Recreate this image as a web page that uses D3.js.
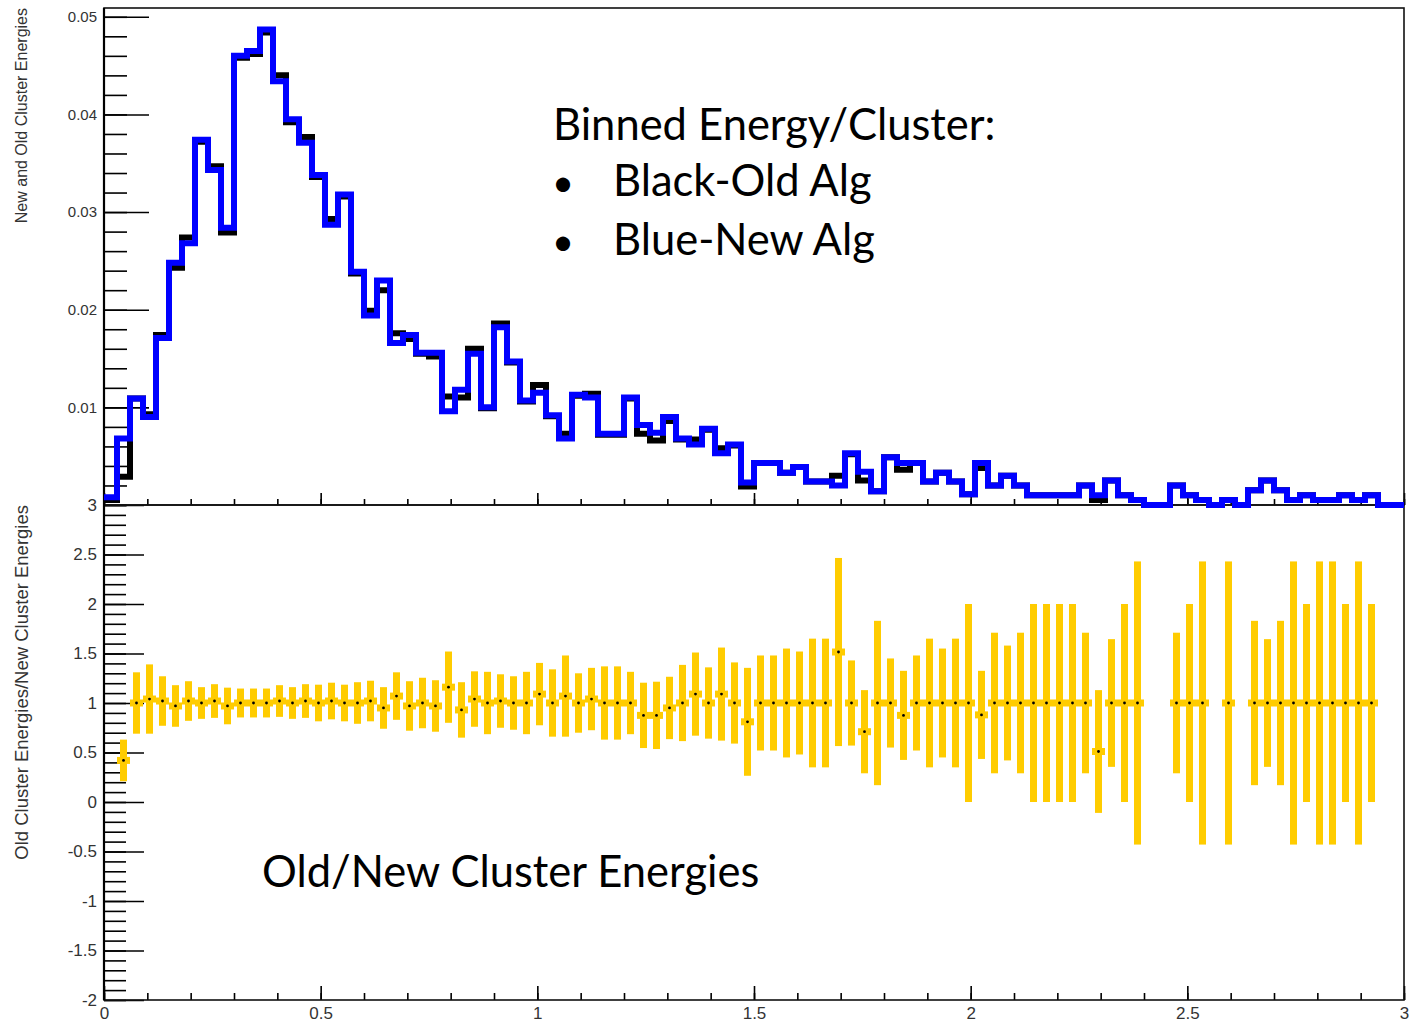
<!DOCTYPE html>
<html>
<head>
<meta charset="utf-8">
<script src="https://cdn.jsdelivr.net/npm/d3@7"></script>
<style>
  body { margin: 0; background: #fff; }
  svg { display: block; }
</style>
</head>
<body>
<svg id="chart" width="1411" height="1023"></svg>
<script>
// ---- binning: 100 bins of 0.03 between 0 and 3 ----
const xRange = [0, 3];
const nBins = 100;

// Normalised energy per cluster, old algorithm (black)
const oldAlg = [
  0.0005, 0.0029, 0.0109, 0.0093, 0.0174, 0.0243, 0.0274, 0.0372, 0.0347, 0.0279,
  0.0458, 0.0462, 0.0484, 0.0440, 0.0392, 0.0377, 0.0336, 0.0293, 0.0316, 0.0237,
  0.0199, 0.0220, 0.0176, 0.0170, 0.0155, 0.0152, 0.0111, 0.0110, 0.0160, 0.0099,
  0.0186, 0.0146, 0.0106, 0.0123, 0.0091, 0.0073, 0.0112, 0.0114, 0.0072, 0.0072,
  0.0109, 0.0073, 0.0066, 0.0086, 0.0067, 0.0067, 0.0077, 0.0058, 0.0061, 0.0019,
  0.0043, 0.0043, 0.0033, 0.0039, 0.0024, 0.0024, 0.0030, 0.0052, 0.0025, 0.0014,
  0.0049, 0.0036, 0.0043, 0.0024, 0.0033, 0.0024, 0.0011, 0.0038, 0.0020, 0.0030,
  0.0020, 0.0010, 0.0010, 0.0010, 0.0010, 0.0020, 0.0005, 0.0025, 0.0010, 0.0005,
  0.0000, 0.0000, 0.0020, 0.0010, 0.0005, 0.0000, 0.0005, 0.0000, 0.0015, 0.0025,
  0.0015, 0.0005, 0.0010, 0.0005, 0.0005, 0.0010, 0.0005, 0.0010, 0.0000, 0.0000
];

// Normalised energy per cluster, new algorithm (blue)
const newAlg = [
  0.0008, 0.0068, 0.0109, 0.0090, 0.0171, 0.0248, 0.0268, 0.0374, 0.0343, 0.0284,
  0.0460, 0.0465, 0.0487, 0.0434, 0.0395, 0.0371, 0.0338, 0.0287, 0.0318, 0.0239,
  0.0194, 0.0230, 0.0166, 0.0174, 0.0156, 0.0156, 0.0096, 0.0118, 0.0155, 0.0100,
  0.0182, 0.0147, 0.0107, 0.0115, 0.0092, 0.0068, 0.0113, 0.0110, 0.0073, 0.0073,
  0.0110, 0.0082, 0.0074, 0.0090, 0.0068, 0.0062, 0.0078, 0.0053, 0.0062, 0.0023,
  0.0043, 0.0043, 0.0033, 0.0039, 0.0024, 0.0024, 0.0020, 0.0053, 0.0034, 0.0014,
  0.0049, 0.0043, 0.0043, 0.0024, 0.0033, 0.0024, 0.0011, 0.0043, 0.0020, 0.0030,
  0.0020, 0.0010, 0.0010, 0.0010, 0.0010, 0.0020, 0.0010, 0.0025, 0.0010, 0.0005,
  0.0000, 0.0000, 0.0020, 0.0010, 0.0005, 0.0000, 0.0005, 0.0000, 0.0015, 0.0025,
  0.0015, 0.0005, 0.0010, 0.0005, 0.0005, 0.0010, 0.0005, 0.0010, 0.0000, 0.0000
];

// Old/New ratio per bin (null where a bin is empty) and its error
const ratio = [
  null, 0.42, 1.00, 1.04, 1.02, 0.97, 1.02, 1.00, 1.02, 0.97,
  1.00, 1.00, 1.00, 1.02, 1.00, 1.02, 1.00, 1.02, 1.00, 1.00,
  1.02, 0.95, 1.07, 0.97, 1.00, 0.97, 1.16, 0.93, 1.04, 1.00,
  1.02, 1.00, 1.00, 1.09, 1.00, 1.07, 1.00, 1.04, 1.00, 1.00,
  1.00, 0.875, 0.875, 0.95, 1.00, 1.09, 1.00, 1.09, 1.00, 0.81,
  1.00, 1.00, 1.00, 1.00, 1.00, 1.00, 1.515, 1.00, 0.71, 1.00,
  1.00, 0.875, 1.00, 1.00, 1.00, 1.00, 1.00, 0.88, 1.00, 1.00,
  1.00, 1.00, 1.00, 1.00, 1.00, 1.00, 0.51, 1.00, 1.00, 1.00,
  null, null, 1.00, 1.00, 1.00, null, 1.00, null, 1.00, 1.00,
  1.00, 1.00, 1.00, 1.00, 1.00, 1.00, 1.00, 1.00, null, null
];
const ratioErr = [
  0, 0.21, 0.31, 0.35, 0.25, 0.21, 0.20, 0.16, 0.17, 0.185,
  0.146, 0.146, 0.146, 0.16, 0.16, 0.17, 0.185, 0.185, 0.185, 0.21,
  0.205, 0.21, 0.24, 0.25, 0.255, 0.26, 0.36, 0.28, 0.28, 0.315,
  0.27, 0.27, 0.315, 0.315, 0.34, 0.41, 0.30, 0.315, 0.37, 0.37,
  0.315, 0.33, 0.34, 0.315, 0.385, 0.42, 0.36, 0.47, 0.41, 0.545,
  0.48, 0.48, 0.55, 0.52, 0.65, 0.65, 0.95, 0.43, 0.42, 0.83,
  0.45, 0.45, 0.48, 0.65, 0.55, 0.65, 1.00, 0.445, 0.71, 0.58,
  0.71, 1.00, 1.00, 1.00, 1.00, 0.71, 0.62, 0.645, 1.00, 1.43,
  0, 0, 0.71, 1.00, 1.43, 0, 1.43, 0, 0.83, 0.645,
  0.83, 1.43, 1.00, 1.43, 1.43, 1.00, 1.43, 1.00, 0, 0
];

// axis ticks and labels
const xMajor = [0, 0.5, 1, 1.5, 2, 2.5, 3];
const xLabels = ["0", "0.5", "1", "1.5", "2", "2.5", "3"];
const topYMajor = [0.01, 0.02, 0.03, 0.04, 0.05];
const topYLabels = ["0.01", "0.02", "0.03", "0.04", "0.05"];
const botYMajor = [3, 2.5, 2, 1.5, 1, 0.5, 0, -0.5, -1, -1.5, -2];
const botYLabels = ["3", "2.5", "2", "1.5", "1", "0.5", "0", "-0.5", "-1", "-1.5", "-2"];

const topTitle = "New and Old Cluster Energies";
const botTitle = "Old Cluster Energies/New Cluster Energies";
const legendHead = "Binned Energy/Cluster:";
const legendItems = ["Black-Old Alg", "Blue-New Alg"];
const ratioNote = "Old/New Cluster Energies";

// ---- layout ----
const svg = d3.select("#chart");
const L = 104, R = 1404;
const topT = 8, split = 505, botB = 1000;

const x = d3.scaleLinear().domain(xRange).range([L, R]);
const yTop = d3.scaleLinear().domain([0, 0.0509]).range([split, topT]);
const yBot = d3.scaleLinear().domain([-2, 3]).range([botB, split]);
const binW = (xRange[1] - xRange[0]) / nBins;

svg.append("rect").attr("width", 1411).attr("height", 1023).attr("fill", "#fff");

const tickFont = "'Liberation Sans', Arial, Helvetica, sans-serif";

function styleAxis(g, fontSize) {
  g.select(".domain").remove();
  g.selectAll(".tick line").attr("stroke", "#000").attr("stroke-width", 1.6);
  g.selectAll(".tick text")
    .attr("fill", "#333")
    .style("font-family", tickFont)
    .style("font-size", fontSize + "px");
}

// ---- top panel axes ----
svg.append("g").attr("transform", `translate(${L},0)`)
  .call(d3.axisLeft(yTop).tickValues(d3.range(0, 0.0501, 0.002)).tickSize(-23).tickFormat(""))
  .call(g => styleAxis(g, 15));
svg.append("g").attr("transform", `translate(${L},0)`)
  .call(d3.axisLeft(yTop).tickValues(topYMajor).tickSize(-45).tickPadding(7)
    .tickFormat((d, i) => topYLabels[i]))
  .call(g => styleAxis(g, 15));

svg.append("g").attr("transform", `translate(0,${split})`)
  .call(d3.axisBottom(x).tickValues(d3.range(0, 3.001, 0.1)).tickSize(-6).tickFormat(""))
  .call(g => styleAxis(g, 15));
svg.append("g").attr("transform", `translate(0,${split})`)
  .call(d3.axisBottom(x).tickValues(xMajor).tickSize(-12).tickFormat(""))
  .call(g => styleAxis(g, 15));

// ---- bottom panel axes ----
svg.append("g").attr("transform", `translate(${L},0)`)
  .call(d3.axisLeft(yBot).tickValues(d3.range(-2, 3.001, 0.1)).tickSize(-22).tickFormat(""))
  .call(g => styleAxis(g, 17));
svg.append("g").attr("transform", `translate(${L},0)`)
  .call(d3.axisLeft(yBot).tickValues(botYMajor).tickSize(-40).tickPadding(7)
    .tickFormat((d, i) => botYLabels[i]))
  .call(g => styleAxis(g, 17));

svg.append("g").attr("transform", `translate(0,${botB})`)
  .call(d3.axisBottom(x).tickValues(d3.range(0, 3.001, 0.1)).tickSize(-7).tickFormat(""))
  .call(g => styleAxis(g, 17));
svg.append("g").attr("transform", `translate(0,${botB})`)
  .call(d3.axisBottom(x).tickValues(xMajor).tickSize(-14).tickPadding(7)
    .tickFormat((d, i) => xLabels[i]))
  .call(g => styleAxis(g, 17));

// ---- frames ----
svg.append("rect").attr("x", L).attr("y", topT).attr("width", R - L).attr("height", split - topT)
  .attr("fill", "none").attr("stroke", "#111").attr("stroke-width", 1.6);
svg.append("rect").attr("x", L).attr("y", split).attr("width", R - L).attr("height", botB - split)
  .attr("fill", "none").attr("stroke", "#111").attr("stroke-width", 1.6);
svg.append("line").attr("x1", L).attr("x2", L).attr("y1", topT).attr("y2", botB)
  .attr("stroke", "#000").attr("stroke-width", 2.2);

// ---- histograms ----
function stepPoints(vals) {
  const pts = vals.map((v, i) => [xRange[0] + i * binW, v]);
  pts.push([xRange[1], vals[vals.length - 1]]);
  return pts;
}
const stepLine = d3.line()
  .x(d => x(d[0]))
  .y(d => yTop(d[1]))
  .curve(d3.curveStepAfter);

svg.append("path").datum(stepPoints(oldAlg))
  .attr("d", stepLine).attr("fill", "none")
  .attr("stroke", "#000").attr("stroke-width", 6).attr("stroke-linejoin", "miter");
svg.append("path").datum(stepPoints(newAlg))
  .attr("d", stepLine).attr("fill", "none")
  .attr("stroke", "#0000ff").attr("stroke-width", 6).attr("stroke-linejoin", "miter");

// ---- ratio points with error bars ----
const ratioPts = ratio.map((r, i) => ({ i, r, e: ratioErr[i] })).filter(d => d.r !== null);
const yellow = "#ffcc00";
const rg = svg.append("g");
rg.selectAll("rect.v").data(ratioPts).join("rect").attr("class", "v")
  .attr("x", d => x((d.i + 0.5) * binW) - 3.5)
  .attr("width", 7)
  .attr("y", d => yBot(d.r + d.e))
  .attr("height", d => yBot(d.r - d.e) - yBot(d.r + d.e))
  .attr("fill", yellow);
rg.selectAll("rect.h").data(ratioPts).join("rect").attr("class", "h")
  .attr("x", d => x(d.i * binW))
  .attr("width", d => x((d.i + 1) * binW) - x(d.i * binW))
  .attr("y", d => yBot(d.r) - 3.5)
  .attr("height", 7)
  .attr("fill", yellow);
rg.selectAll("circle").data(ratioPts).join("circle")
  .attr("cx", d => x((d.i + 0.5) * binW))
  .attr("cy", d => yBot(d.r))
  .attr("r", 1.4)
  .attr("fill", "#000");

// ---- axis titles ----
svg.append("text")
  .attr("transform", `translate(27,${topT}) rotate(-90)`)
  .attr("text-anchor", "end")
  .attr("fill", "#333")
  .style("font-family", tickFont).style("font-size", "16px")
  .text(topTitle);
svg.append("text")
  .attr("transform", `translate(28,${split}) rotate(-90)`)
  .attr("text-anchor", "end")
  .attr("fill", "#333")
  .style("font-family", tickFont).style("font-size", "18.5px")
  .text(botTitle);

// ---- annotation text ----
const noteFont = "Lato, 'Open Sans', sans-serif";
const note = svg.append("g").style("font-family", noteFont).attr("fill", "#000");
note.append("text").attr("x", 553).attr("y", 140).style("font-size", "43.5px").text(legendHead);
legendItems.forEach((t, i) => {
  const yb = 196 + i * 59;
  note.append("text").attr("x", 552).attr("y", yb).style("font-size", "38px").text("\u2022");
  note.append("text").attr("x", 613).attr("y", yb).style("font-size", "43.5px").text(t);
});
note.append("text").attr("x", 262).attr("y", 887).style("font-size", "43.5px").text(ratioNote);
</script>
</body>
</html>
